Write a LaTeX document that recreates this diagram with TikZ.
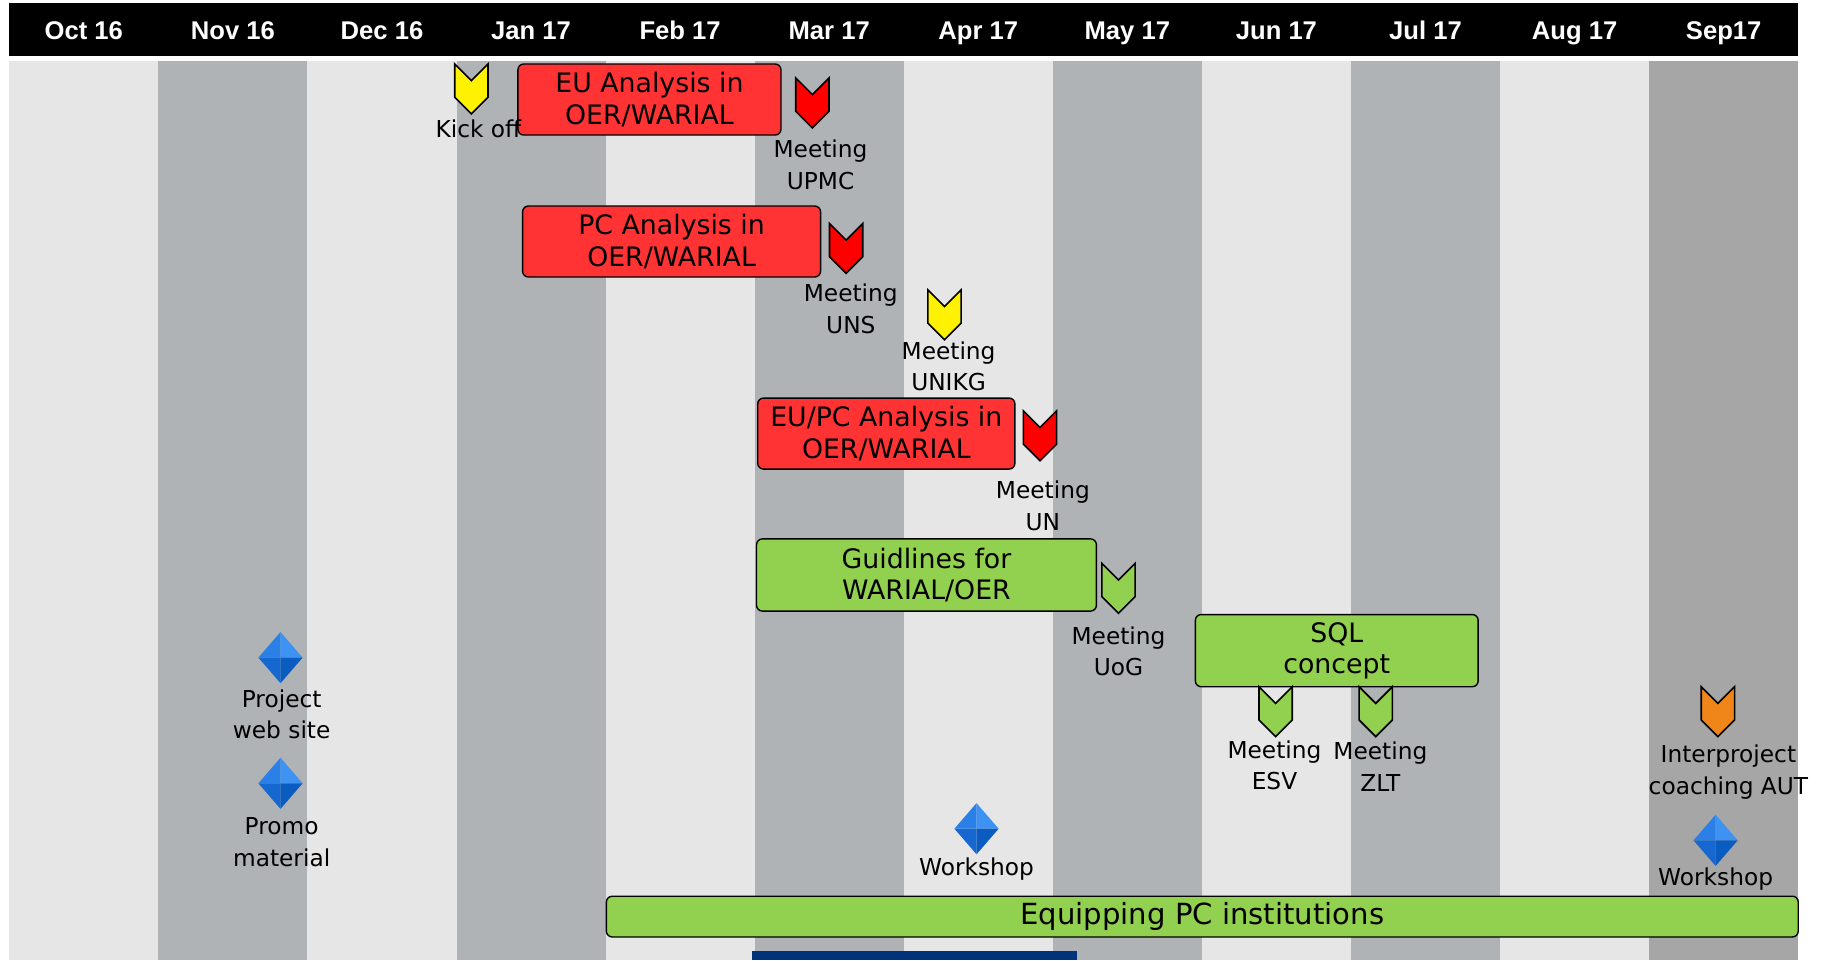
\documentclass[tikz,border=0pt]{standalone}
\usepackage{fontspec}
\setmainfont{DejaVu Sans}
\newfontfamily\headfont{Liberation Sans}
\usetikzlibrary{positioning}
\definecolor{lightcol}{RGB}{230,230,230}
\definecolor{darkcol}{RGB}{176,179,182}
\definecolor{lastcol}{RGB}{166,166,166}
\definecolor{taskred}{RGB}{255,51,51}
\definecolor{taskgreen}{RGB}{146,208,80}
\definecolor{mileorange}{RGB}{240,134,26}
\definecolor{navybar}{RGB}{0,51,122}
\definecolor{gemtl}{RGB}{42,128,230}
\definecolor{gemtr}{RGB}{62,146,242}
\definecolor{gembl}{RGB}{22,104,208}
\definecolor{gembr}{RGB}{10,92,192}
\tikzset{
  milestone/.pic={
    \draw[pic actions,line width=0.7pt,line join=miter]
      (-14.3,0) -- (0,14.3) -- (14.3,0) -- (14.3,28.6)
      -- (0,42.9) -- (-14.3,28.6) -- cycle;
  },
  gem/.pic={
    \fill[gemtl] (0,-22) -- (-19,0) -- (0,0) -- cycle;
    \fill[gemtr] (0,-22) -- (19,0) -- (0,0) -- cycle;
    \fill[gembl] (0,22) -- (-19,0) -- (0,0) -- cycle;
    \fill[gembr] (0,22) -- (19,0) -- (0,0) -- cycle;
  },
}
\begin{document}
\begin{tikzpicture}[x=0.5pt,y=-0.5pt,
  month/.style={white,anchor=base,inner sep=0pt,font=\headfont\bfseries\fontsize{11}{13}\selectfont},
  task/.style={draw=black,line width=0.6pt,rounded corners=2.5pt,inner sep=0pt,
    align=center,font=\fontsize{11.5}{13.5}\selectfont},
  label/.style={align=center,inner sep=0pt,font=\fontsize{10}{13.5}\selectfont}]
  \useasboundingbox (0,0) rectangle (1568,825);
  \fill[white] (0,0) rectangle (1568,825);
  % month columns
  \foreach \i/\c in {0/lightcol,1/darkcol,2/lightcol,3/darkcol,4/lightcol,5/darkcol,
    6/lightcol,7/darkcol,8/lightcol,9/darkcol,10/lightcol,11/lastcol} {
    \fill[\c] ({8+128.08*\i},52) rectangle ({8+128.08*(\i+1)},825);
  }
  \fill[navybar] (646,817) rectangle (925,825);
  % header
  \fill[black] (8,3) rectangle (1545,48);
  \foreach \m [count=\i from 0] in {Oct 16,Nov 16,Dec 16,Jan 17,Feb 17,Mar 17,
    Apr 17,May 17,Jun 17,Jul 17,Aug 17,Sep17} {
    \node[month] (m\i) at ({8+128.08*(\i+0.5)},34) {\m};
  }
  % tasks
  \node[task,fill=taskred,minimum width=113pt,minimum height=30.5pt] (eu) at (558,85.5)
    {EU Analysis in\\OER/WARIAL};
  \node[task,fill=taskred,minimum width=128pt,minimum height=30.5pt] (pc) at (577,207.5)
    {PC Analysis in\\OER/WARIAL};
  \node[task,fill=taskred,minimum width=110.5pt,minimum height=30.5pt] (eupc) at (761.5,372.5)
    {EU/PC Analysis in\\OER/WARIAL};
  \node[task,fill=taskgreen,minimum width=146pt,minimum height=31pt] (guide) at (796,494)
    {Guidlines for\\WARIAL/OER};
  \node[task,fill=taskgreen,minimum width=121.5pt,minimum height=31pt] (sql) at (1148.5,559)
    {SQL\\concept};
  \node[task,fill=taskgreen,minimum width=512pt,minimum height=17.5pt,
    font=\fontsize{12.5}{14}\selectfont] (equip) at (1033,787.5) {Equipping PC institutions};
  % milestones
  \foreach \x/\y/\c in {405/55/yellow, 698/67/red, 727/192/red, 811.5/249/yellow,
    893.5/353/red, 961/484/taskgreen, 1096/590/taskgreen, 1182/590/taskgreen,
    1476/590/mileorange} {
    \draw (\x,\y) pic[fill=\c] {milestone};
  }
  \node[label] (kick) at (411,111) {Kick off};
  \node[label] (upmc) at (705,141.5) {Meeting\\UPMC};
  \node[label] (uns) at (731,265.5) {Meeting\\UNS};
  \node[label] (unikg) at (815,314.5) {Meeting\\UNIKG};
  \node[label] (un) at (896,434.5) {Meeting\\UN};
  \node[label] (uog) at (961,559.5) {Meeting\\UoG};
  \node[label] (esv) at (1095,657.5) {Meeting\\ESV};
  \node[label] (zlt) at (1186,658.5) {Meeting\\ZLT};
  \node[label] (aut) at (1485,663.5) {Interproject\\coaching AUT};
  % deliverables
  \foreach \x/\y in {241/565, 241/673, 839/712, 1474/722} {
    \draw (\x,\y) pic {gem};
  }
  \node[label] (web) at (242,613.5) {Project\\web site};
  \node[label] (promo) at (242,723.5) {Promo\\material};
  \node[label] (work1) at (839,747) {Workshop};
  \node[label] (work2) at (1474,755) {Workshop};
\end{tikzpicture}
\end{document}
